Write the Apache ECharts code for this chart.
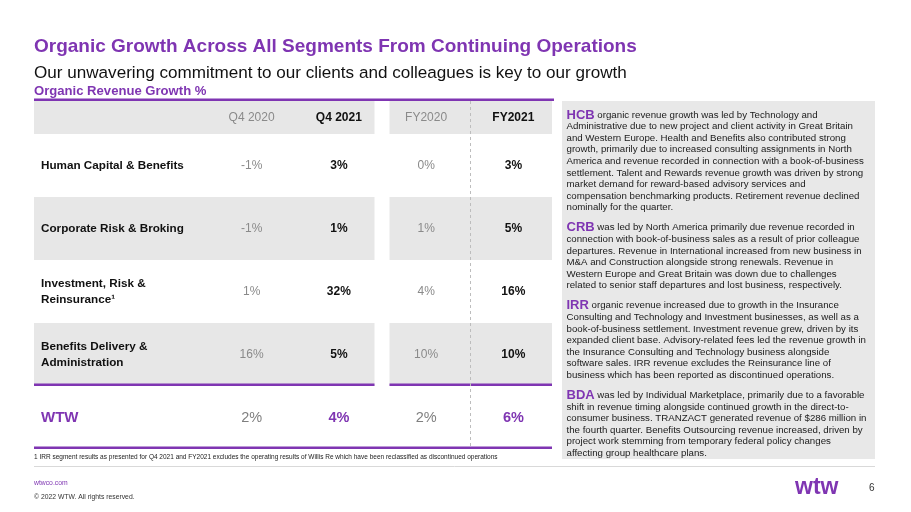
<!DOCTYPE html>
<html><head><meta charset="utf-8">
<script src="https://cdn.jsdelivr.net/npm/echarts@6/dist/echarts.min.js"></script>
<style>html,body{margin:0;padding:0;background:#fff}#c{width:911px;height:512px}</style>
</head><body><div id="c"></div><script>
const FONT = '"Liberation Sans", Arial, sans-serif';
const PURPLE = '#7F35B2';

// ---- data ----
const periods = ['Q4 2020', 'Q4 2021', 'FY2020', 'FY2021'];
const currentPeriods = ['Q4 2021', 'FY2021'];
const segments = ['Human Capital & Benefits', 'Corporate Risk & Broking', 'Investment, Risk &\nReinsurance\u00B9', 'Benefits Delivery &\nAdministration', 'WTW'];
const totalLabel = 'WTW';
const q4_2020 = [-1, -1, 1, 16, 2];
const q4_2021 = [3, 1, 32, 5, 4];
const fy2020 = [0, 1, 4, 10, 2];
const fy2021 = [3, 5, 16, 10, 6];
const columns = [q4_2020, q4_2021, fy2020, fy2021];

const titleText = 'Organic Growth Across All Segments From Continuing Operations';
const subtitleText = 'Our unwavering commitment to our clients and colleagues is key to our growth';
const sectionText = 'Organic Revenue Growth %';
const footnoteText = '1 IRR segment results as presented for Q4 2021 and FY2021 excludes the operating results of Willis Re which have been reclassified as discontinued operations';

const commentaryKeys = ['HCB', 'CRB', 'IRR', 'BDA'];
const commentaryLines = [
  [' organic revenue growth was led by Technology and',
   'Administrative due to new project and client activity in Great Britain',
   'and Western Europe. Health and Benefits also contributed strong',
   'growth, primarily due to increased consulting assignments in North',
   'America and revenue recorded in connection with a book-of-business',
   'settlement. Talent and Rewards revenue growth was driven by strong',
   'market demand for reward-based advisory services and',
   'compensation benchmarking products. Retirement revenue declined',
   'nominally for the quarter.'],
  [' was led by North America primarily due revenue recorded in',
   'connection with book-of-business sales as a result of prior colleague',
   'departures. Revenue in International increased from new business in',
   'M&A and Construction alongside strong renewals. Revenue in',
   'Western Europe and Great Britain was down due to challenges',
   'related to senior staff departures and lost business, respectively.'],
  [' organic revenue increased due to growth in the Insurance',
   'Consulting and Technology and Investment businesses, as well as a',
   'book-of-business settlement. Investment revenue grew, driven by its',
   'expanded client base. Advisory-related fees led the revenue growth in',
   'the Insurance Consulting and Technology business alongside',
   'software sales. IRR revenue excludes the Reinsurance line of',
   'business which has been reported as discontinued operations.'],
  [' was led by Individual Marketplace, primarily due to a favorable',
   'shift in revenue timing alongside continued growth in the direct-to-',
   'consumer business. TRANZACT generated revenue of $286 million in',
   'the fourth quarter. Benefits Outsourcing revenue increased, driven by',
   'project work stemming from temporary federal policy changes',
   'affecting group healthcare plans.']
];

// ---- build ----
const cellData = [];
columns.forEach((col, ci) => col.forEach((v, ri) => cellData.push([ci, ri, v])));
const rowData = segments.map((s, i) => [0, i]);

const chart = echarts.init(document.getElementById('c'), null, {renderer: 'canvas'});

// commentary panel graphics
const LH = 11.6, PGAP = 8.4;
const panel = [{type: 'rect', shape: {x: 562, y: 101, width: 313, height: 358}, style: {fill: '#e8e8e8'}, z: 1}];
let py = 109.2;
commentaryKeys.forEach((k, i) => {
  const lines = commentaryLines[i];
  panel.push({
    type: 'text', x: 566.5, y: py, z: 2,
    style: {
      text: '{k|' + k + '}' + lines.join('\n'),
      font: '9.7px ' + FONT, fill: '#1a1a1a', lineHeight: LH,
      rich: {k: {font: 'bold 13px ' + FONT, fill: PURPLE, lineHeight: LH}}
    }
  });
  py += lines.length * LH + PGAP;
});
panel.push({type: 'line', shape: {x1: 34, y1: 466.5, x2: 875, y2: 466.5}, style: {stroke: '#d9d9d9', lineWidth: 1}, z: 1});

const option = {
  animation: false,
  backgroundColor: '#fff',
  title: [
    {text: titleText, left: 34, top: 37.5, padding: 0, textStyle: {color: PURPLE, fontSize: 19, fontWeight: 'bold', fontFamily: FONT}},
    {text: subtitleText, left: 34, top: 64.5, padding: 0, textStyle: {color: '#111', fontSize: 17.1, fontWeight: 'normal', fontFamily: FONT}},
    {text: sectionText, left: 34, top: 85, padding: 0, textStyle: {color: PURPLE, fontSize: 13.1, fontWeight: 'bold', fontFamily: FONT}},
    {text: footnoteText, left: 34, top: 454, padding: 0, textStyle: {color: '#222', fontSize: 6.5, fontWeight: 'normal', fontFamily: FONT}},
    {text: 'wtwco.com', left: 34, top: 479.5, padding: 0, textStyle: {color: PURPLE, fontSize: 6.8, fontWeight: 'normal', fontFamily: FONT}},
    {text: '\u00A9 2022 WTW. All rights reserved.', left: 34, top: 493.5, padding: 0, textStyle: {color: '#333', fontSize: 6.8, fontWeight: 'normal', fontFamily: FONT}},
    {text: 'wtw', left: 795, top: 476, padding: 0, textStyle: {color: PURPLE, fontSize: 23, fontWeight: 'bold', fontFamily: FONT}},
    {text: '6', left: 869, top: 483, padding: 0, textStyle: {color: '#333', fontSize: 10, fontWeight: 'normal', fontFamily: FONT}}
  ],
  graphic: panel,
  grid: {left: 208, top: 134, width: 349, height: 315, containLabel: false},
  xAxis: {
    type: 'category', data: periods, position: 'top', z: 10,
    axisLine: {show: false}, axisTick: {show: false}, splitLine: {show: false},
    axisLabel: {
      margin: 10.5, fontFamily: FONT,
      formatter: v => currentPeriods.includes(v) ? '{c|' + v + '}' : '{p|' + v + '}',
      rich: {
        c: {fontSize: 12, fontWeight: 'bold', color: '#111', fontFamily: FONT},
        p: {fontSize: 12, fontWeight: 'normal', color: '#8a8a8a', fontFamily: FONT}
      }
    }
  },
  yAxis: {
    type: 'category', data: segments, inverse: true, z: 10,
    axisLine: {show: false}, axisTick: {show: false}, splitLine: {show: false},
    axisLabel: {
      align: 'left', margin: 167, fontFamily: FONT, fontSize: 11.7, fontWeight: 'bold', color: '#111', lineHeight: 16,
      formatter: v => v === totalLabel ? '{t|' + v + '}' : v,
      rich: {t: {fontSize: 15, fontWeight: 'bold', color: PURPLE, fontFamily: FONT}}
    }
  },
  series: [
    {
      type: 'custom', name: 'bands', data: rowData, encode: {x: 0, y: 1}, z: 1, silent: true,
      renderItem(params, api) {
        const ri = api.value(1);
        const cs = params.coordSys;
        const sz = api.size([1, 1]);
        const cw = sz[0], rh = sz[1];
        const cy = api.coord([0, ri])[1];
        const top = cy - rh / 2;
        const xL0 = cs.x - 174;
        const xL1 = api.coord([1, ri])[0] + cw / 2 - 8;
        const xR0 = api.coord([2, ri])[0] - cw / 2 + 7;
        const xR1 = api.coord([3, ri])[0] + cw / 2 - 5;
        const grey = '#e7e7e7';
        const ch = [];
        const rect = (x, y, w, h, fill) => ({type: 'rect', shape: {x, y, width: w, height: h}, style: {fill}});
        const hl = (x1, x2, y) => ({type: 'line', shape: {x1, y1: y, x2, y2: y}, style: {stroke: PURPLE, lineWidth: 2.6}});
        if (ri === 0) {
          ch.push(rect(xL0, cs.y - 33, xL1 - xL0, 33, grey));
          ch.push(rect(xR0, cs.y - 33, xR1 - xR0, 33, grey));
          ch.push(hl(xL0, xR1 + 2, cs.y - 34.3));
        }
        if (ri % 2 === 1) {
          ch.push(rect(xL0, top, xL1 - xL0, rh, grey));
          ch.push(rect(xR0, top, xR1 - xR0, rh, grey));
        }
        if (ri === segments.length - 2) {
          ch.push(hl(xL0, xL1, top + rh - 1.3));
          ch.push(hl(xR0, xR1, top + rh - 1.3));
        }
        if (ri === segments.length - 1) {
          ch.push(hl(xL0, xR1, top + rh - 1.3));
        }
        return {type: 'group', children: ch};
      }
    },
    {
      type: 'custom', name: 'divider', data: [[3, 0]], encode: {x: 0, y: 1}, z: 3, silent: true,
      renderItem(params, api) {
        const cs = params.coordSys;
        const cw = api.size([1, 1])[0];
        const x = Math.round(api.coord([api.value(0), 0])[0] - cw / 2) + 0.5;
        return {type: 'line', shape: {x1: x, y1: cs.y - 33, x2: x, y2: cs.y + cs.height - 2.6},
          style: {stroke: '#bdbdbd', lineWidth: 1, lineDash: [3, 3]}};
      }
    },
    {
      type: 'custom', name: 'cells', data: cellData, encode: {x: 0, y: 1}, z: 4, silent: true,
      renderItem(params, api) {
        const ci = api.value(0), ri = api.value(1), v = api.value(2);
        const p = api.coord([ci, ri]);
        const isCur = currentPeriods.includes(periods[ci]);
        const isTotal = segments[ri] === totalLabel;
        let fill, weight, size;
        if (isTotal) { size = 14.5; fill = isCur ? PURPLE : '#7f7f7f'; weight = isCur ? 'bold' : 'normal'; }
        else { size = 12; fill = isCur ? '#111' : '#8a8a8a'; weight = isCur ? 'bold' : 'normal'; }
        return {type: 'text', x: p[0], y: p[1],
          style: {text: v + '%', fill, font: weight + ' ' + size + 'px ' + FONT, align: 'center', verticalAlign: 'middle'}};
      }
    }
  ]
};
chart.setOption(option);
</script></body></html>
